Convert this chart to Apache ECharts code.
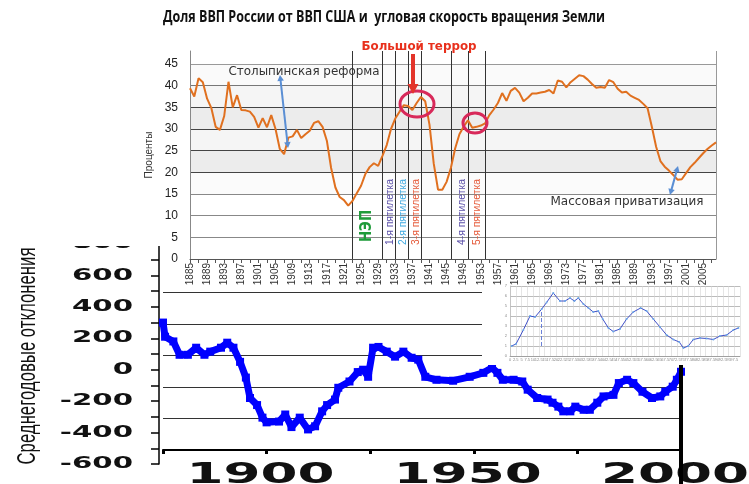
<!DOCTYPE html>
<html>
<head>
<meta charset="utf-8">
<script src="https://cdn.jsdelivr.net/npm/echarts@6/dist/echarts.min.js"></script>
<style>
  html, body { margin: 0; padding: 0; background: #fff; }
  #main { width: 749px; height: 484px; }
</style>
</head>
<body>
<div id="main"></div>
<script>
// доля ВВП России от ВВП США, %, 1885-2008
const gdpYears = [];
for (let y = 1885; y <= 2008; y++) gdpYears.push(String(y));
const gdpShare = [
  39.4, 37.5, 41.7, 40.8, 37.0, 34.8, 30.5, 29.8, 33.0, 40.9,
  35.0, 37.8, 34.4, 34.3, 34.0, 32.8, 30.3, 32.5, 30.4, 33.2,
  30.0, 25.4, 24.2, 28.0, 28.3, 29.8, 27.9, 28.8, 29.6, 31.4,
  31.8, 30.5, 27.3, 21.0, 16.5, 14.3, 13.6, 12.3, 13.4, 15.2,
  16.9, 19.6, 21.2, 22.1, 21.5, 23.8, 26.3, 30.0, 32.4, 34.0,
  35.5, 35.3, 34.4, 36.0, 37.4, 36.4, 31.0, 22.0, 16.0, 16.0,
  17.8, 21.0, 25.5, 28.8, 30.6, 32.0, 30.3, 30.5, 30.8, 31.3,
  33.2, 34.5, 36.0, 38.3, 36.5, 38.8, 39.5, 38.4, 36.4, 37.2,
  38.2, 38.2, 38.4, 38.6, 39.0, 38.2, 41.2, 40.9, 39.6, 40.8,
  41.6, 42.4, 42.2, 41.4, 40.4, 39.5, 39.7, 39.5, 41.3, 40.8,
  39.3, 38.4, 38.6, 37.7, 37.2, 36.7, 35.8, 34.8, 30.5, 25.9,
  22.6, 21.3, 20.4, 19.4, 18.3, 18.4, 19.8, 21.2, 22.2, 23.3,
  24.4, 25.4, 26.2, 26.9
];
// вертикальные линии периодов
const periodLines = ['1923', '1930', '1933', '1936', '1939', '1946', '1950', '1954'];

// среднегодовые отклонения скорости вращения Земли
const rotYears = [1875, 1875.5, 1877.5, 1879, 1881, 1883, 1885, 1886.4, 1889, 1890.5,
  1892, 1893.6, 1895, 1896, 1897.7, 1899, 1900, 1903, 1904.5, 1906,
  1908, 1910, 1911.7, 1913.4, 1914.6, 1916.5, 1917.3, 1920, 1922, 1923.3,
  1924.5, 1925.7, 1927, 1929, 1931, 1933, 1935, 1936.6, 1938.3, 1941,
  1945, 1949, 1952.3, 1954.4, 1955.7, 1957, 1959.6, 1961.7, 1963, 1965.3,
  1967.8, 1969, 1970.4, 1971.6, 1973.3, 1974.5, 1976.5, 1978, 1979.8, 1981.3,
  1983.7, 1985, 1987, 1988.5, 1990.7, 1993, 1995, 1996.2, 1998, 1999, 2000];
const rotValues = [300, 210, 180, 95, 95, 140, 95, 115, 140, 172,
  140, 50, -50, -180, -225, -305, -335, -330, -285, -365,
  -305, -380, -360, -265, -225, -190, -115, -75, -15, 0,
  -45, 140, 145, 115, 83, 115, 76, 64, -45, -64,
  -70, -45, -20, 13, -20, -64, -64, -75, -127, -180,
  -190, -210, -235, -265, -265, -235, -255, -255, -210, -170,
  -160, -85, -64, -85, -140, -180, -170, -140, -108, -64, -13];
const rotTicks = [-600, -400, -200, 0, 200, 400, 600, 800];
const rotYearLabels = [1900, 1950, 2000];
const gridLevels = [490, 290, 90, -110, -310];

// маленькая врезка
const insetX = [0.7, 2.6, 5.8, 8.7, 10.9, 13.8, 15.9, 18.8, 21.7, 23.9, 26.1, 28, 29.7, 31.9,
  34.1, 36.2, 38.4, 40.3, 42.8, 44.9, 47.8, 50.7, 53.6, 56.8, 59.4, 62.3, 65.2, 68.1, 71,
  73.6, 75.4, 77.5, 79.7, 82.6, 85.5, 88.4, 91.3, 94.2, 97.1, 99.3];
const insetY = [1.0, 1.2, 2.6, 4.0, 3.9, 4.7, 5.35, 6.3, 5.5, 5.5, 5.8, 5.5, 5.8, 5.2,
  4.8, 4.4, 4.5, 3.7, 2.8, 2.45, 2.7, 3.7, 4.4, 4.8, 4.5, 3.7, 2.9, 2.1, 1.65,
  1.4, 0.8, 1.0, 1.65, 1.8, 1.75, 1.65, 2.0, 2.1, 2.6, 2.8];

const chart = echarts.init(document.getElementById('main'));

const option = {
  animation: false,
  backgroundColor: '#fff',
  grid: [
    { left: 190, top: 51, width: 526, height: 208 },
    { left: 163, top: 244, width: 518, height: 220 },
    { left: 510, top: 286, width: 230, height: 70 }
  ],
  xAxis: [
    {
      gridIndex: 0, type: 'category', data: gdpYears, boundaryGap: false, z: 10,
      axisLine: { lineStyle: { color: '#555' } },
      axisTick: { interval: 1, length: 4, lineStyle: { color: '#555' } },
      axisLabel: { interval: 3, rotate: 90, fontSize: 10, color: '#333', margin: 4, fontFamily: 'Liberation Sans' },
      splitLine: { show: false }
    },
    {
      gridIndex: 1, type: 'value', min: 1875, max: 2000, interval: 25, offset: -14, z: 1,
      axisLine: { onZero: false, lineStyle: { color: '#000', width: 2 } },
      axisTick: { length: 4, lineStyle: { color: '#000', width: 3 } },
      axisLabel: { show: false },
      splitLine: { show: false }
    },
    {
      gridIndex: 2, type: 'value', min: 0, max: 100, interval: 2.5, z: 10,
      axisLine: { onZero: false, lineStyle: { color: '#999', width: 0.8 } },
      axisTick: { show: false },
      axisLabel: { fontSize: 4, color: '#888', margin: 2 },
      splitLine: { lineStyle: { color: '#d4d4d4', width: 0.6 } }
    }
  ],
  yAxis: [
    {
      gridIndex: 0, type: 'value', min: 0, max: 48, interval: 5, z: 10,
      name: 'Проценты', nameLocation: 'middle', nameGap: 33,
      nameTextStyle: { fontSize: 10, color: '#333', fontFamily: 'Liberation Sans' },
      axisLine: { show: true, lineStyle: { color: '#888' } },
      axisTick: { show: false },
      axisLabel: { fontSize: 12, color: '#222', margin: 12, fontFamily: 'Liberation Sans',
        formatter: v => (v % 5 === 0 ? String(v) : '') },
      splitLine: { show: true, lineStyle: { width: 1,
        color: ['#666', '#888', '#888', '#888', '#444', '#444', '#444', '#444', '#777', '#999', 'rgba(0,0,0,0)'] } },
      splitArea: { show: true, areaStyle: {
        color: ['#fff', '#fff', '#fff', '#fbfbfb', '#ececec', '#f5f5f5', '#ececec', '#f5f5f5', '#fafafa', '#fff'] } }
    },
    {
      gridIndex: 1, type: 'value', min: -600, max: 800, interval: 100, offset: 4, z: 1,
      axisLine: { show: true, onZero: false, lineStyle: { color: '#000', width: 1.5 } },
      axisTick: { show: true, length: 8, lineStyle: { color: '#000', width: 1.5 } },
      axisLabel: { show: false },
      splitLine: { show: false }
    },
    {
      gridIndex: 2, type: 'value', min: 0, max: 7, interval: 1, z: 10,
      axisLine: { show: true, onZero: false, lineStyle: { color: '#bbb', width: 0.8 } },
      axisTick: { show: false },
      axisLabel: { fontSize: 4, color: '#888', margin: 3 },
      splitLine: { lineStyle: { color: '#aaa', width: 0.8 } }
    }
  ],
  series: [
    {
      type: 'line', xAxisIndex: 0, yAxisIndex: 0, z: 12,
      data: gdpShare, symbol: 'none',
      lineStyle: { color: '#e0701f', width: 2 },
      markLine: {
        silent: true, symbol: 'none', z: 11,
        label: { show: false },
        lineStyle: { color: '#333', width: 1, type: 'solid' },
        data: periodLines.map(y => ({ xAxis: y }))
          .concat([{ xAxis: '2008', lineStyle: { color: '#999', width: 1, type: 'solid' } }])
      }
    },
    {
      type: 'line', xAxisIndex: 1, yAxisIndex: 1, z: 2,
      data: rotYears.map((y, i) => [y, rotValues[i]]),
      symbol: 'rect', symbolSize: 8,
      itemStyle: { color: '#0000ff' },
      lineStyle: { color: '#0000ff', width: 7 },
      markLine: {
        silent: true, symbol: 'none', z: 1,
        label: { show: false },
        lineStyle: { color: '#333', width: 1, type: 'solid' },
        data: gridLevels.map(v => ({ yAxis: v }))
      }
    },
    {
      type: 'line', xAxisIndex: 2, yAxisIndex: 2, z: 12,
      data: insetX.map((x, i) => [x, insetY[i]]),
      symbol: 'circle', symbolSize: 2,
      itemStyle: { color: '#6aa8e8' },
      lineStyle: { color: '#4050c8', width: 1 },
      markLine: {
        silent: true, symbol: 'none', z: 12,
        label: { show: false },
        lineStyle: { color: '#6a80d8', width: 1, type: 'dashed' },
        data: [[{ coord: [13.8, 1] }, { coord: [13.8, 4.7] }]]
      }
    }
  ]
};
chart.setOption(option);

// --- подписи и аннотации ---
const ctx = document.createElement('canvas').getContext('2d');
function fit(text, font, w) {
  ctx.font = font;
  return w / ctx.measureText(text).width;
}
function txt(text, x, y, font, color, w, extra) {
  return Object.assign({
    type: 'text', z: 20, x: x, y: y, scaleX: w ? fit(text, font, w) : 1,
    style: { text: text, font: font, fill: color, align: 'center', verticalAlign: 'middle' }
  }, extra || {});
}
function arrow(x1, y1, x2, y2, color, w, head, both) {
  const a = Math.atan2(y2 - y1, x2 - x1);
  const tip = (x, y, ang) => {
    const bx = x - head * Math.cos(ang), by = y - head * Math.sin(ang);
    const px = -Math.sin(ang) * head * 0.55, py = Math.cos(ang) * head * 0.55;
    return { type: 'polygon', z: 20, shape: { points: [[x, y], [bx + px, by + py], [bx - px, by - py]] }, style: { fill: color } };
  };
  const s = head * 0.8;
  const els = [{ type: 'line', z: 20,
    shape: { x1: both ? x1 + s * Math.cos(a) : x1, y1: both ? y1 + s * Math.sin(a) : y1,
             x2: x2 - s * Math.cos(a), y2: y2 - s * Math.sin(a) },
    style: { stroke: color, lineWidth: w } }];
  els.push(tip(x2, y2, a));
  if (both) els.push(tip(x1, y1, a + Math.PI));
  return els;
}

const graphics = [];

// крупные подписи нижнего графика через шкалы осей (рисуются первыми, под подложками)
const yFont = 'bold 16px "DejaVu Sans"';
const yScale = fit('600', yFont, 61);
rotTicks.forEach(v => {
  const py = chart.convertToPixel({ yAxisIndex: 1 }, v);
  graphics.push({ type: 'text', z: 3, x: 133, y: py, scaleX: yScale,
    style: { text: String(v), font: yFont, fill: '#111', align: 'right', verticalAlign: 'middle' } });
});
const xFont = 'bold 28px "DejaVu Sans"';
const xScale = fit('1950', xFont, 148);
rotYearLabels.forEach(v => {
  const px = chart.convertToPixel({ xAxisIndex: 1 }, v);
  graphics.push({ type: 'text', z: 3, x: px - 6, y: 462, scaleX: xScale,
    style: { text: String(v), font: xFont, fill: '#111', align: 'center', verticalAlign: 'top' } });
});
// жирная вертикаль у 2000 года
const x2000 = chart.convertToPixel({ xAxisIndex: 1 }, 2000);
const yTop = chart.convertToPixel({ yAxisIndex: 1 }, 50);
graphics.push({ type: 'line', z: 3, shape: { x1: x2000, y1: yTop, x2: x2000, y2: 484 },
  style: { stroke: '#000', lineWidth: 4 } });
graphics.push(txt('Среднегодовые отклонения', 28, 356, '26px "Liberation Sans"', '#111', 217,
  { rotation: Math.PI / 2, z: 3 }));

// белые подложки: верхний график поверх нижнего
graphics.push(
  { type: 'rect', z: 5, shape: { x: 0, y: 0, width: 749, height: 246 }, style: { fill: '#fff' } },
  { type: 'rect', z: 5, shape: { x: 165, y: 246, width: 584, height: 45 }, style: { fill: '#fff' } },
  { type: 'rect', z: 5, shape: { x: 482, y: 287, width: 263, height: 78 }, style: { fill: '#fff' } }
);

// аннотации верхнего графика
graphics.push(
  txt('Доля ВВП России от ВВП США и  угловая скорость вращения Земли', 384, 17,
    'bold 16px "Open Sans"', '#111', 442),
  txt('Большой террор', 419, 47, 'bold 12px "DejaVu Sans"', '#e8301c', 115),
  txt('Столыпинская реформа', 304, 72, '12px "DejaVu Sans"', '#333', 151),
  txt('Массовая приватизация', 627, 202, '12px "DejaVu Sans"', '#333', 153),
  txt('НЭП', 367, 226, 'bold 15px "DejaVu Sans"', '#1f9b3a', 32, { rotation: Math.PI / 2 }),
  txt('1-я пятилетка', 390, 212, '10px "Liberation Sans"', '#5a4fa8', 66, { rotation: Math.PI / 2 }),
  txt('2-я пятилетка', 403, 212, '10px "Liberation Sans"', '#3fa9e0', 66, { rotation: Math.PI / 2 }),
  txt('3-я пятилетка', 416, 212, '10px "Liberation Sans"', '#e55a3a', 66, { rotation: Math.PI / 2 }),
  txt('4-я пятилетка', 462, 212, '10px "Liberation Sans"', '#5a4fa8', 66, { rotation: Math.PI / 2 }),
  txt('5-я пятилетка', 477, 212, '10px "Liberation Sans"', '#e55a3a', 66, { rotation: Math.PI / 2 }),
  { type: 'ellipse', z: 20, shape: { cx: 417, cy: 104, rx: 17, ry: 13 }, style: { fill: 'none', stroke: '#d8295a', lineWidth: 3 } },
  { type: 'ellipse', z: 20, shape: { cx: 475, cy: 123, rx: 12, ry: 10 }, style: { fill: 'none', stroke: '#d8295a', lineWidth: 3 } }
);
arrow(413, 54, 413, 94, '#e3342a', 4, 10, false)
  .concat(arrow(280, 75, 288, 148, '#5b8fd4', 2, 6, true))
  .concat(arrow(678, 166, 670, 195, '#5b8fd4', 2, 6, true))
  .forEach(el => graphics.push(el));

chart.setOption({ graphic: graphics });
</script>
</body>
</html>
